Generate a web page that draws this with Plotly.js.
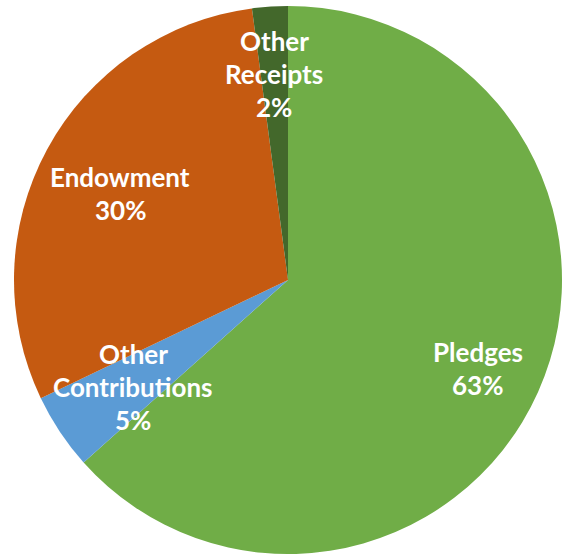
<!DOCTYPE html>
<html>
<head>
<meta charset="utf-8">
<script src="https://cdn.plot.ly/plotly-3.0.1.min.js"></script>
<style>html,body{margin:0;padding:0;background:#fff}#chart{width:564px;height:554px}</style>
</head>
<body>
<div id="chart"></div>
<script>
const categories = ["Pledges", "Other Contributions", "Endowment", "Other Receipts"];
const values = [63.4, 4.5, 30.0, 2.1];
const labelLines = [["Pledges"], ["Other", "Contributions"], ["Endowment"], ["Other", "Receipts"]];
const colors = ["#70AD47", "#5B9BD5", "#C55A11", "#43682B"];

const W = 564, H = 554;
// pixel center of first label line for each slice
const labelPos = [[478, 352], [133, 354], [120, 177], [274, 41]];
const lineGap = 33;

const total = values.reduce((a, b) => a + b, 0);
const annotations = [];
categories.forEach((c, i) => {
  const lines = labelLines[i].concat([Math.round(values[i] / total * 100) + "%"]);
  lines.forEach((t, k) => {
    annotations.push({
      text: t, xref: "paper", yref: "paper",
      x: labelPos[i][0] / W, y: 1 - (labelPos[i][1] + k * lineGap) / H,
      xanchor: "center", yanchor: "middle", showarrow: false,
      font: {family: "Lato, 'Open Sans', sans-serif", size: 26, color: "#ffffff", weight: "bold"}
    });
  });
});

const data = [{
  type: "pie",
  labels: categories,
  values: values,
  sort: false,
  direction: "clockwise",
  rotation: 0,
  marker: {colors: colors, line: {width: 0}},
  textinfo: "none",
  hoverinfo: "label+percent",
  domain: {x: [13 / W, 563 / W], y: [0, 1 - 6 / H]}
}];

const layout = {
  width: W, height: H,
  margin: {l: 0, r: 0, t: 0, b: 0},
  showlegend: false,
  paper_bgcolor: "#ffffff",
  annotations: annotations
};

Plotly.newPlot("chart", data, layout, {displayModeBar: false, staticPlot: true});
</script>
</body>
</html>
